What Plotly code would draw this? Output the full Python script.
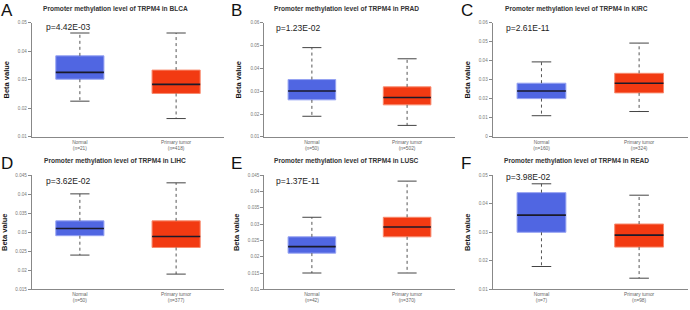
import plotly.graph_objects as go

# ---------------- data ----------------
letters = ["A", "B", "C", "D", "E", "F"]
cancers = ["BLCA", "PRAD", "KIRC", "LIHC", "LUSC", "READ"]
pvalues = ["p=4.42E-03", "p=1.23E-02", "p=2.61E-11", "p=3.62E-02", "p=1.37E-11", "p=3.98E-02"]
n_normal = [21, 50, 160, 50, 42, 7]
n_tumor = [418, 502, 324, 377, 370, 98]
groups = ["Normal", "Primary tumor"]

# [lower whisker, q1, median, q3, upper whisker]
normal_stats = [
    [0.0225, 0.0302, 0.0326, 0.0384, 0.0464],
    [0.0190, 0.0262, 0.0301, 0.0351, 0.0491],
    [0.0111, 0.0201, 0.0241, 0.0282, 0.0394],
    [0.0240, 0.0291, 0.0310, 0.0330, 0.0401],
    [0.0150, 0.0211, 0.0231, 0.0261, 0.0321],
    [0.0180, 0.0300, 0.0360, 0.0439, 0.0470],
]
tumor_stats = [
    [0.0164, 0.0252, 0.0284, 0.0334, 0.0464],
    [0.0150, 0.0240, 0.0272, 0.0319, 0.0442],
    [0.0133, 0.0231, 0.0282, 0.0334, 0.0493],
    [0.0190, 0.0260, 0.0289, 0.0330, 0.0430],
    [0.0150, 0.0261, 0.0291, 0.0321, 0.0432],
    [0.0139, 0.0248, 0.0290, 0.0329, 0.0430],
]
y_ranges = [
    [0.01, 0.05], [0.01, 0.06], [0.0, 0.06],
    [0.015, 0.045], [0.01, 0.045], [0.01, 0.05],
]
y_dticks = [0.01, 0.01, 0.01, 0.005, 0.005, 0.01]

# ---------------- style ----------------
W, H = 690, 310
fill_colors = ["#5066E2", "#F23A12"]
edge_colors = ["#95A2F2", "#F88A6E"]
box_w = 0.5
cap_w = 0.2

x_domains = [[0.046, 0.325], [0.383, 0.659], [0.714, 0.997]]
y_domains = [[0.558, 0.932], [0.058, 0.432]]
panel_left_px = [0, 230, 460]
row_top_px = [0, 155]
p_y_px = [25, 26, 26, 182, 182, 178]

fig = go.Figure()
annotations = []

for k in range(6):
    r, c = divmod(k, 3)
    ax = "" if k == 0 else str(k + 1)
    xref, yref = "x" + ax, "y" + ax
    stats = [normal_stats[k], tumor_stats[k]]
    for g in range(2):
        lo, q1, med, q3, hi = stats[g]
        # box body
        fig.add_trace(go.Bar(
            x=[g], y=[q3 - q1], base=[q1], width=box_w,
            marker=dict(color=fill_colors[g], line=dict(color=edge_colors[g], width=1)),
            xaxis=xref, yaxis=yref, showlegend=False, hoverinfo="skip"))
        # whiskers (dotted)
        for a, b in ((q3, hi), (q1, lo)):
            fig.add_trace(go.Scatter(
                x=[g, g], y=[a, b], mode="lines",
                line=dict(color="#555555", width=1, dash="dot"),
                xaxis=xref, yaxis=yref, showlegend=False, hoverinfo="skip"))
        # caps
        for v in (hi, lo):
            fig.add_trace(go.Scatter(
                x=[g - cap_w / 2, g + cap_w / 2], y=[v, v], mode="lines",
                line=dict(color="#444444", width=1),
                xaxis=xref, yaxis=yref, showlegend=False, hoverinfo="skip"))
        # median
        fig.add_trace(go.Scatter(
            x=[g - box_w / 2, g + box_w / 2], y=[med, med], mode="lines",
            line=dict(color="#1a1a2a", width=1.6),
            xaxis=xref, yaxis=yref, showlegend=False, hoverinfo="skip"))

    ticktext = [f"{groups[0]}<br>(n={n_normal[k]})", f"{groups[1]}<br>(n={n_tumor[k]})"]
    fig.update_layout(**{
        "xaxis" + ax: dict(
            domain=x_domains[c], anchor=yref, range=[-0.5, 1.5],
            tickvals=[0, 1], ticktext=ticktext, ticks="",
            showline=True, linecolor="#888888", linewidth=1,
            showgrid=False, zeroline=False, fixedrange=True,
            tickfont=dict(family="Arial", size=4.8, color="#666666")),
        "yaxis" + ax: dict(
            domain=y_domains[r], anchor=xref, range=y_ranges[k],
            dtick=y_dticks[k], tick0=0, ticks="outside", ticklen=3,
            tickcolor="#888888", tickwidth=1,
            showline=True, linecolor="#888888", linewidth=1,
            showgrid=False, zeroline=False, fixedrange=True,
            tickfont=dict(family="Arial", size=4.6, color="#777777"),
            title=dict(text="<b>Beta value</b>", standoff=7,
                       font=dict(family="Arial", size=7.5, color="#111111"))),
    })

    left = panel_left_px[c]
    top = row_top_px[r]
    annotations.append(dict(
        text=letters[k], xref="paper", yref="paper",
        x=(left - 1) / W, y=1 - (top - 3) / H, xanchor="left", yanchor="top",
        showarrow=False, font=dict(family="Arial", size=17, color="#111111")))
    annotations.append(dict(
        text=f"<b>Promoter methylation level of TRPM4 in {cancers[k]}</b>",
        xref="paper", yref="paper",
        x=(left + 115 + (1 if c else 0)) / W, y=1 - (top + 7) / H,
        xanchor="center", yanchor="middle", showarrow=False,
        font=dict(family="Arial", size=6.6, color="#333333")))
    annotations.append(dict(
        text=pvalues[k], xref="paper", yref="paper",
        x=(left + 44) / W, y=1 - p_y_px[k] / H,
        xanchor="left", yanchor="middle", showarrow=False,
        font=dict(family="Arial", size=8.5, color="#222222")))

fig.update_layout(
    width=W, height=H, margin=dict(l=0, r=0, t=0, b=0),
    paper_bgcolor="white", plot_bgcolor="white",
    annotations=annotations, bargap=0, showlegend=False)

fig.write_html(
    "out.html",
    config={"displayModeBar": False, "staticPlot": True},
    post_script="document.body.style.margin='0';document.body.style.overflow='hidden';")
